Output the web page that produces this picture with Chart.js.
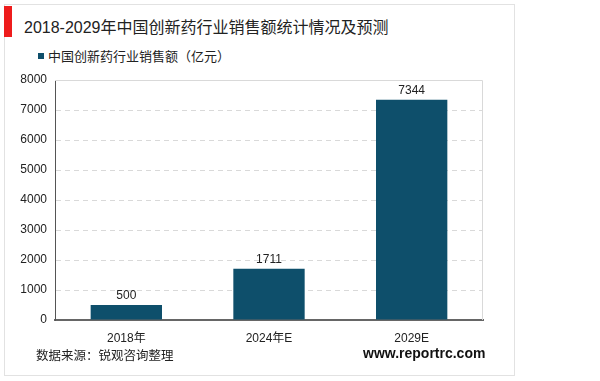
<!DOCTYPE html>
<html>
<head>
<meta charset="utf-8">
<script src="https://cdn.jsdelivr.net/npm/chart.js@4/dist/chart.umd.min.js"></script>
<style>
  body { margin: 0; background: #fff; font-family: Arial, "Liberation Sans", "Noto Sans CJK SC", sans-serif; }
  #wrap { position: relative; width: 600px; height: 381px; overflow: hidden; }
  #panel { position: absolute; left: 4px; top: 4px; width: 511px; height: 372px; border: 1px solid #e2e2e2; box-sizing: border-box; }
  #redbar { position: absolute; left: 4px; top: 6px; width: 8px; height: 31px; background: #ee1c1c; }
  #title { position: absolute; left: 24px; top: 14px; font-size: 16px; color: #222; white-space: nowrap; }
  #legend { position: absolute; left: 38px; top: 46px; font-size: 13px; color: #222; white-space: nowrap; }
  #legend span.box { display: inline-block; width: 6px; height: 6px; background: #0e4f6b; margin-right: 4px; vertical-align: 2px; }
  #source { position: absolute; left: 36px; top: 345px; font-size: 12.5px; color: #222; white-space: nowrap; }
  #site { position: absolute; left: 363px; top: 345px; font-size: 14px; font-weight: bold; color: #111; white-space: nowrap; }
  canvas { position: absolute; left: 0; top: 0; }
</style>
</head>
<body>
<div id="wrap">
  <div id="panel"></div>
  <div id="redbar"></div>
  <div id="title">2018-2029年中国创新药行业销售额统计情况及预测</div>
  <div id="legend"><span class="box"></span>中国创新药行业销售额（亿元）</div>
  <canvas id="chart" width="600" height="381"></canvas>
  <div id="source">数据来源：锐观咨询整理</div>
  <div id="site">www.reportrc.com</div>
</div>
<script>
const categories = ['2018年', '2024年E', '2029E'];
const sales = [500, 1711, 7344];
const seriesName = '中国创新药行业销售额（亿元）';

// value labels above bars + light frame on top/right of plot
const barLabels = {
  id: 'barLabels',
  beforeDatasetsDraw(chart) {
    const { ctx, chartArea } = chart;
    ctx.save();
    ctx.strokeStyle = '#d9d9d9';
    ctx.lineWidth = 1;
    ctx.beginPath();
    ctx.moveTo(chartArea.left, chartArea.top + 0.5);
    ctx.lineTo(chartArea.right - 0.5, chartArea.top + 0.5);
    ctx.lineTo(chartArea.right - 0.5, chartArea.bottom);
    ctx.stroke();
    ctx.restore();
  },
  afterDatasetsDraw(chart) {
    const { ctx } = chart;
    const meta = chart.getDatasetMeta(0);
    ctx.save();
    ctx.font = '12px Arial, "Liberation Sans", sans-serif';
    ctx.fillStyle = '#222';
    ctx.textAlign = 'center';
    ctx.textBaseline = 'bottom';
    meta.data.forEach((bar, i) => {
      ctx.fillText(String(sales[i]), bar.x, bar.y - 3);
    });
    ctx.restore();
  }
};

new Chart(document.getElementById('chart'), {
  type: 'bar',
  data: {
    labels: categories,
    datasets: [{
      label: seriesName,
      data: sales,
      backgroundColor: '#0e4f6b',
      barPercentage: 0.5,
      categoryPercentage: 1.0
    }]
  },
  options: {
    responsive: false,
    animation: false,
    layout: { padding: { left: 18, right: 117, top: 80, bottom: 0 } },
    plugins: {
      legend: { display: false },
      tooltip: { enabled: false }
    },
    scales: {
      x: {
        grid: { display: false },
        border: { display: true, color: '#666', width: 2 },
        ticks: { color: '#222', font: { size: 12, family: 'Arial, "Liberation Sans", "Noto Sans CJK SC", sans-serif' }, padding: 3 },
        afterFit(scale) { scale.height = 61; }
      },
      y: {
        min: 0,
        max: 8000,
        ticks: {
          stepSize: 1000, color: '#222', padding: 8,
          font: { size: 12, family: 'Arial, "Liberation Sans", sans-serif' },
          callback: v => String(v)
        },
        grid: {
          drawTicks: false,
          color: ctx => (ctx.tick && (ctx.tick.value === 0 || ctx.tick.value === 8000)) ? 'rgba(0,0,0,0)' : '#d9d9d9'
        },
        border: { display: true, color: '#555', width: 1, dash: [5, 4] },
        afterFit(scale) { scale.width = 37; }
      }
    }
  },
  plugins: [barLabels]
});
</script>
</body>
</html>
